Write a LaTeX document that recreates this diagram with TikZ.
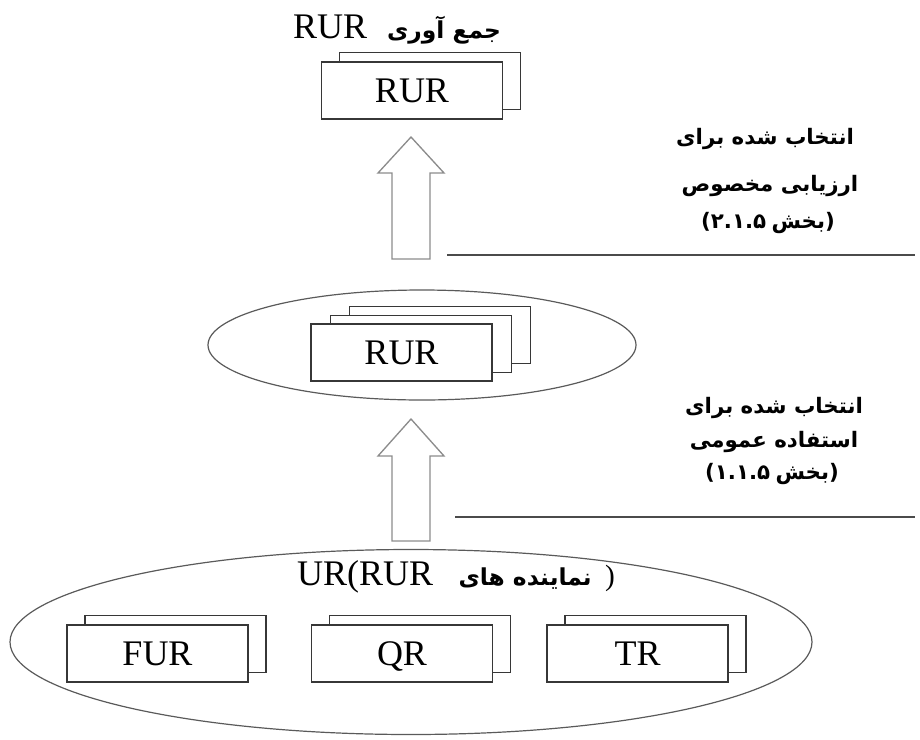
\documentclass[tikz,border=0pt]{standalone}
\usepackage{fontspec}
\setmainfont{Liberation Serif}
\newfontfamily\arabicfont[Script=Arabic]{DejaVu Sans}
\newfontfamily\plainfont{DejaVu Sans}
\usetikzlibrary{shapes.geometric,shadows}
\TeXXeTstate=1

\definecolor{boxline}{RGB}{55,55,55}
\definecolor{ovalline}{RGB}{90,90,90}
\definecolor{arrowline}{RGB}{140,140,140}
\definecolor{ruleline}{RGB}{75,75,75}

\tikzset{
  rbox/.style={draw=boxline, line width=1pt, fill=white, inner sep=0pt,
    minimum width=135.75pt, minimum height=42.75pt, text height=18pt, text depth=0pt,
    font=\fontsize{27}{30}\selectfont},
  onecopy/.style={copy shadow={shadow xshift=13.5pt, shadow yshift=7pt, draw=boxline, line width=1pt}},
  twocopy/.style={double copy shadow={shadow xshift=14.5pt, shadow yshift=6.6pt, draw=boxline, line width=1pt}},
  oval/.style={ellipse, draw=ovalline, line width=0.9pt, inner sep=0pt},
  blockarrow/.style={draw=arrowline, line width=1pt, fill=white},
  rule/.style={draw=ruleline, line width=1.2pt},
  fatext/.style={font=\arabicfont\bfseries\fontsize{16}{19}\selectfont, inner sep=0pt},
}
% Persian words, bold, right to left
\newcommand{\fa}[2][15]{{\arabicfont\bfseries\fontsize{#1}{#1}\selectfont\beginR #2\endR}}
% section number: parentheses and digits kept left to right
\newcommand{\secno}[3]{{\plainfont\bfseries (#1\kern0pt.\kern0pt#2\kern0pt.\kern0pt#3}\hspace{4pt}\fa[16]{بخش}{\plainfont\bfseries )}}

\begin{document}
\begin{tikzpicture}[x=0.75pt,y=0.75pt,yscale=-1,xscale=1]
\useasboundingbox (0,0) rectangle (920,739);

% Ellipses
\node (baseoval) [oval, minimum width=601.5pt, minimum height=138.75pt] at (411,642) {};
\node (midoval) [oval, minimum width=321pt, minimum height=82.5pt] at (422,345) {};

% Top stack
\node (toptitle) [inner sep=0pt, font=\fontsize{27}{30}\selectfont] at (397,30) {RUR\hspace{15pt}\fa[17.5]{جمع آوری}};
\node (topbox) [rbox, onecopy] at (412,90.5) {RUR};

% Middle stack
\node (midbox) [rbox, twocopy] at (401.5,352.5) {RUR};

% Bottom stacks
\node (urlabel) [inner sep=0pt, font=\fontsize{27}{30}\selectfont] at (456,577) {UR(RUR\hspace{19pt}\fa[17.5]{نماینده های}\hspace{10pt}{\fontsize{22}{24}\selectfont )}};
\node (furbox) [rbox, onecopy] at (157.5,653.5) {FUR};
\node (qrbox) [rbox, onecopy] at (402,653.5) {QR};
\node (trbox) [rbox, onecopy] at (637.5,653.5) {TR};

% Block arrows
\coordinate (uptip) at (411,137);
\draw [blockarrow] (uptip) -- ++(33,36) -- ++(-14,0) -- ++(0,86) -- ++(-38,0) -- ++(0,-86) -- ++(-14,0) -- cycle;
\coordinate (lowtip) at (411,419);
\draw [blockarrow] (lowtip) -- ++(33,37) -- ++(-14,0) -- ++(0,85) -- ++(-38,0) -- ++(0,-85) -- ++(-14,0) -- cycle;

% Rules
\coordinate (uprulea) at (447,255);
\coordinate (upruleb) at (915,255);
\draw [rule] (uprulea) -- (upruleb);
\coordinate (lowrulea) at (455,517);
\coordinate (lowruleb) at (915,517);
\draw [rule] (lowrulea) -- (lowruleb);

% Text Node
\node (upa) [fatext] at (765,139) {\beginR انتخاب شده برای\endR};
\node (upb) [fatext] at (770,186) {\beginR ارزیابی مخصوص\endR};
\node (upc) [fatext] at (768,223) {\secno{۲}{۱}{۵}};
% Text Node
\node (lowa) [fatext] at (774,408) {\beginR انتخاب شده برای\endR};
\node (lowb) [fatext] at (774,442) {\beginR استفاده عمومی\endR};
\node (lowc) [fatext] at (772,474) {\secno{۱}{۱}{۵}};

\end{tikzpicture}
\end{document}
